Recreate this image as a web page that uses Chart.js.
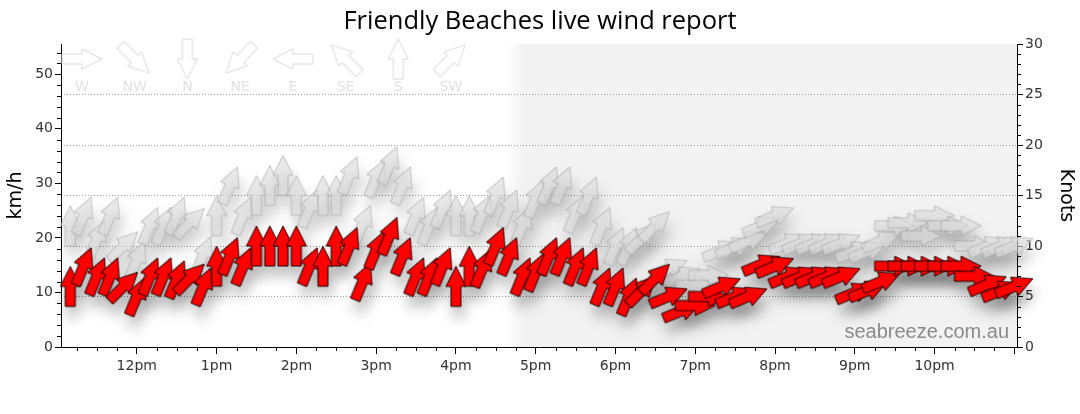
<!DOCTYPE html>
<html>
<head>
<meta charset="utf-8">
<title>Friendly Beaches live wind report</title>
<script src="https://cdn.jsdelivr.net/npm/chart.js@4.4.1/dist/chart.umd.min.js"></script>
<style>
    html, body { margin: 0; padding: 0; background: #fff; }
    canvas { display: block; }
</style>
</head>
<body>
<canvas id="wind-chart" width="1080" height="414"></canvas>
<script>
// Observations, 10 minute steps (local time)
const obsTimes = [
    '11:10', '11:20', '11:30', '11:40', '11:50',
    '12:00', '12:10', '12:20', '12:30', '12:40', '12:50',
    '13:00', '13:10', '13:20', '13:30', '13:40', '13:50',
    '14:00', '14:10', '14:20', '14:30', '14:40', '14:50',
    '15:00', '15:10', '15:20', '15:30', '15:40', '15:50',
    '16:00', '16:10', '16:20', '16:30', '16:40', '16:50',
    '17:00', '17:10', '17:20', '17:30', '17:40', '17:50',
    '18:00', '18:10', '18:20', '18:30', '18:40', '18:50',
    '19:00', '19:10', '19:20', '19:30', '19:40', '19:50',
    '20:00', '20:10', '20:20', '20:30', '20:40', '20:50',
    '21:00', '21:10', '21:20', '21:30', '21:40', '21:50',
    '22:00', '22:10', '22:20', '22:30', '22:40', '22:50',
    '23:00',
];

// Wind speed in knots
const windKnots = [
    6, 8, 7, 7, 6,
    5, 7, 7, 6.7, 6.8, 6,
    8, 9, 8, 10, 10, 10,
    10, 8, 8, 10, 10, 6.5,
    9.6, 11, 9, 7, 7, 8,
    6, 8, 7.8, 10, 9, 7,
    7.4, 9, 9, 8, 8, 6,
    6, 5, 5.6, 6.8, 5, 3.6,
    4.1, 5, 6, 5, 5, 8.2,
    8, 7, 7, 7, 7, 7,
    5.4, 5.6, 6.5, 8, 8, 8,
    8, 8, 8, 7, 6.2, 5.6,
    6,
];

// Gusts in knots
const gustKnots = [
    12, 13, 10.7, 13, 10,
    8.6, 12, 12, 13, 12.3, 9.1,
    13, 16, 13, 15, 16, 17,
    15, 13.7, 15, 15, 17, 12.2,
    16.7, 18, 16, 13, 12, 13.7,
    13, 13, 13.2, 15, 13.7, 12,
    14.7, 16, 16, 13.2, 15, 12,
    10, 10, 10.8, 12, 7.8, 7,
    6.1, 7.1, 9.6, 9.9, 10.5, 12,
    13, 10.3, 10.3, 10.3, 10.3, 10.3,
    9.5, 9.5, 10.5, 12, 12.3, 11,
    13, 12, 12, 10, 10, 10,
    10,
];

// Direction the wind blows from
const windDir = [
    'S', 'SSW', 'SSW', 'SSW', 'SW',
    'SSW', 'SSW', 'SSW', 'SSW', 'SW', 'SSW',
    'S', 'SSW', 'SSW', 'S', 'S', 'S',
    'S', 'SSW', 'S', 'S', 'SSW', 'SSW',
    'SSW', 'SSW', 'SSW', 'SSW', 'SSW', 'SSW',
    'S', 'S', 'SSW', 'SSW', 'SSW', 'SSW',
    'SSW', 'SSW', 'SSW', 'SSW', 'SSW', 'SSW',
    'SSW', 'SSW', 'SW', 'SW', 'WSW', 'WSW',
    'W', 'W', 'WSW', 'WSW', 'WSW', 'WSW',
    'WSW', 'WSW', 'WSW', 'WSW', 'WSW', 'WSW',
    'WSW', 'WSW', 'WSW', 'W', 'W', 'W',
    'W', 'W', 'W', 'W', 'WSW', 'WSW',
    'WSW',
];

const compassLegend = ['W', 'NW', 'N', 'NE', 'E', 'SE', 'S', 'SW'];

const hourTicks = ['12:00', '13:00', '14:00', '15:00', '16:00', '17:00', '18:00', '19:00', '20:00', '21:00', '22:00', '23:00'];
const hourLabels = ['12pm', '1pm', '2pm', '3pm', '4pm', '5pm', '6pm', '7pm', '8pm', '9pm', '10pm', ''];
const kmhTicks = [0, 10, 20, 30, 40, 50];
const knotTicks = [0, 5, 10, 15, 20, 25, 30];

const xStart = '11:03';
const xEnd = '23:02';
const sunset = '16:45';
const KMH_PER_KNOT = 1.852;

const toMin = (s) => {
    const [h, m] = s.split(':').map(Number);
    return h * 60 + m;
};

const compassDeg = {
    N: 0, NNE: 22.5, NE: 45, ENE: 67.5, E: 90, ESE: 112.5, SE: 135, SSE: 157.5,
    S: 180, SSW: 202.5, SW: 225, WSW: 247.5, W: 270, WNW: 292.5, NW: 315, NNW: 337.5,
};
// arrows point where the wind is going
const arrowAngle = (dir) => (compassDeg[dir] + 180) % 360;

function arrowPath(g, cx, cy) {
    g.beginPath();
    g.moveTo(cx, cy - 20);
    g.lineTo(cx + 10, cy);
    g.lineTo(cx + 5, cy);
    g.lineTo(cx + 5, cy + 20);
    g.lineTo(cx - 5, cy + 20);
    g.lineTo(cx - 5, cy);
    g.lineTo(cx - 10, cy);
    g.closePath();
}

function makeArrow(fill, stroke) {
    const c = document.createElement('canvas');
    c.width = 24;
    c.height = 44;
    const g = c.getContext('2d');
    arrowPath(g, 12, 22);
    g.fillStyle = fill;
    g.fill();
    g.strokeStyle = stroke;
    g.lineWidth = 1;
    g.stroke();
    return c;
}

function makeShadow() {
    const c = document.createElement('canvas');
    c.width = 70;
    c.height = 90;
    const g = c.getContext('2d');
    g.filter = 'blur(7px)';
    arrowPath(g, 35, 45);
    g.fillStyle = '#000';
    g.fill();
    return c;
}

const redArrow = makeArrow('#ff0000', '#220000');
const greyArrow = makeArrow('rgba(220,220,220,0.62)', 'rgba(160,160,160,0.6)');
const legendArrow = makeArrow('rgba(255,255,255,0)', '#d9d9d9');
const shadowArrow = makeShadow();
const shadowAlpha = { Wind: 0.32, Gust: 0.2 };

const windPoints = obsTimes.map((t, i) => ({ x: toMin(t), y: windKnots[i] }));
const gustPoints = obsTimes.map((t, i) => ({ x: toMin(t), y: gustKnots[i] }));

// shading after sunset + watermark, under the grid
const background = {
    id: 'background',
    beforeDraw(chart) {
        const { ctx, chartArea: a } = chart;
        const x = chart.scales.x;
        const from = x.getPixelForValue(toMin(sunset) - 6);
        const to = x.getPixelForValue(toMin(sunset) + 6);
        const grad = ctx.createLinearGradient(from, 0, to, 0);
        grad.addColorStop(0, 'rgba(242,242,242,0)');
        grad.addColorStop(1, 'rgba(242,242,242,1)');
        ctx.save();
        ctx.fillStyle = grad;
        ctx.fillRect(from, a.top, a.right - from, a.bottom - a.top);
        ctx.font = '20px "Liberation Sans", Arial, sans-serif';
        ctx.fillStyle = '#8a8a8a';
        ctx.textAlign = 'right';
        ctx.textBaseline = 'alphabetic';
        ctx.fillText('seabreeze.com.au', a.right - 8, a.bottom - 9);
        ctx.restore();
    },
};

const arrowShadows = {
    id: 'arrowShadows',
    beforeDatasetDraw(chart, args) {
        const ds = chart.data.datasets[args.index];
        const ctx = chart.ctx;
        ctx.save();
        ctx.globalAlpha = shadowAlpha[ds.label];
        args.meta.data.forEach((pt, i) => {
            ctx.save();
            ctx.translate(pt.x + 3, pt.y + 11);
            ctx.rotate((arrowAngle(windDir[i]) * Math.PI) / 180);
            ctx.drawImage(shadowArrow, -shadowArrow.width / 2, -shadowArrow.height / 2);
            ctx.restore();
        });
        ctx.restore();
    },
};

// minor ticks + direction key
const decorations = {
    id: 'decorations',
    afterDraw(chart) {
        const { ctx, chartArea: a, scales } = chart;
        ctx.save();
        ctx.strokeStyle = '#000';
        ctx.lineWidth = 1;
        ctx.beginPath();
        for (let v = 2; v < scales.kmh.max; v += 2) {
            if (v % 10 === 0) continue;
            const y = Math.round(scales.kmh.getPixelForValue(v)) + 0.5;
            ctx.moveTo(a.left - 4, y);
            ctx.lineTo(a.left, y);
        }
        for (let v = 1; v < 30; v++) {
            if (v % 5 === 0) continue;
            const y = Math.round(scales.knots.getPixelForValue(v)) + 0.5;
            ctx.moveTo(a.right, y);
            ctx.lineTo(a.right + 4, y);
        }
        for (let m = 11 * 60 + 15; m < scales.x.max; m += 15) {
            if (m % 60 === 0) continue;
            const x = Math.round(scales.x.getPixelForValue(m)) + 0.5;
            ctx.moveTo(x, a.bottom);
            ctx.lineTo(x, a.bottom + 4);
        }
        ctx.stroke();

        ctx.font = '14px "DejaVu Sans", sans-serif';
        ctx.fillStyle = '#e2e2e2';
        ctx.textAlign = 'center';
        ctx.textBaseline = 'middle';
        compassLegend.forEach((dir, i) => {
            const cx = a.left + 21 + i * 52.7;
            const cy = a.top + 15;
            ctx.save();
            ctx.translate(cx, cy);
            ctx.rotate((arrowAngle(dir) * Math.PI) / 180);
            ctx.drawImage(legendArrow, -legendArrow.width / 2, -legendArrow.height / 2);
            ctx.restore();
            ctx.fillText(dir, cx, a.top + 43);
        });
        ctx.restore();
    },
};

Chart.defaults.font.family = '"DejaVu Sans", sans-serif';
Chart.defaults.color = '#333';

const tickFont = { size: 14 };
const axisTitleFont = { size: 19 };

new Chart(document.getElementById('wind-chart'), {
    type: 'scatter',
    data: {
        datasets: [
            {
                label: 'Wind',
                data: windPoints,
                yAxisID: 'knots',
                pointStyle: redArrow,
                rotation: (ctx) => arrowAngle(windDir[ctx.dataIndex]),
                pointRadius: 20,
                clip: false,
            },
            {
                label: 'Gust',
                data: gustPoints,
                yAxisID: 'knots',
                pointStyle: greyArrow,
                rotation: (ctx) => arrowAngle(windDir[ctx.dataIndex]),
                pointRadius: 20,
                clip: false,
            },
        ],
    },
    options: {
        responsive: false,
        animation: false,
        events: [],
        layout: { padding: 0 },
        plugins: {
            legend: { display: false },
            tooltip: { enabled: false },
            title: {
                display: true,
                text: 'Friendly Beaches live wind report',
                color: '#000',
                font: { family: '"Open Sans", sans-serif', size: 25.5, weight: 'normal', lineHeight: 1.2 },
                padding: { top: 6, bottom: 7.4 },
            },
        },
        scales: {
            x: {
                type: 'linear',
                min: toMin(xStart),
                max: toMin(xEnd),
                afterBuildTicks: (axis) => {
                    axis.ticks = hourTicks.map((t) => ({ value: toMin(t) }));
                },
                afterFit: (axis) => {
                    axis.height = 67;
                },
                ticks: {
                    callback: (value, index) => hourLabels[index],
                    font: tickFont,
                    color: '#333',
                    padding: 4,
                    maxRotation: 0,
                    autoSkip: false,
                },
                grid: { drawOnChartArea: false, tickLength: 7, tickColor: '#000' },
                border: { color: '#000' },
            },
            kmh: {
                position: 'left',
                min: 0,
                max: 30 * KMH_PER_KNOT,
                afterBuildTicks: (axis) => {
                    axis.ticks = kmhTicks.map((v) => ({ value: v }));
                },
                afterFit: (axis) => {
                    axis.width = 61;
                },
                ticks: { font: tickFont, color: '#333', padding: 2 },
                grid: { drawOnChartArea: false, tickLength: 6, tickColor: '#000' },
                border: { color: '#000' },
                title: {
                    display: true,
                    text: 'km/h',
                    color: '#000',
                    font: axisTitleFont,
                    padding: { top: 5, bottom: 0 },
                },
            },
            knots: {
                position: 'right',
                min: 0,
                max: 30,
                afterBuildTicks: (axis) => {
                    axis.ticks = knotTicks.map((v) => ({ value: v }));
                },
                afterFit: (axis) => {
                    axis.width = 63;
                },
                ticks: { font: tickFont, color: '#333', padding: 2 },
                grid: {
                    drawOnChartArea: true,
                    color: (ctx) => (ctx.tick && (ctx.tick.value === 0 || ctx.tick.value === 30) ? 'rgba(0,0,0,0)' : '#9a9a9a'),
                    tickLength: 6,
                    tickColor: '#000',
                },
                border: { color: '#000', dash: [1, 2] },
                title: {
                    display: true,
                    text: 'Knots',
                    color: '#000',
                    font: axisTitleFont,
                    padding: { top: 3, bottom: 0 },
                },
            },
        },
    },
    plugins: [background, arrowShadows, decorations],
});
</script>
</body>
</html>
